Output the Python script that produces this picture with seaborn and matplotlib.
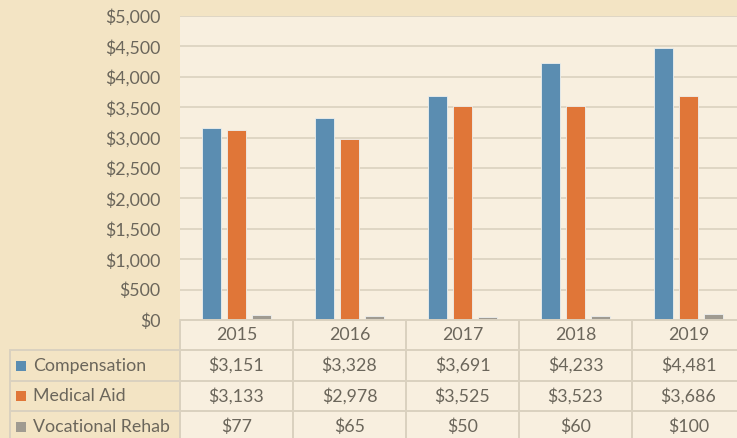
import matplotlib
matplotlib.use('Agg')
import matplotlib.pyplot as plt
import matplotlib.transforms as mtransforms
from matplotlib.patches import Rectangle
from matplotlib.lines import Line2D
import pandas as pd
import seaborn as sns

# Data
years = ['2015', '2016', '2017', '2018', '2019']
compensation = [3151, 3328, 3691, 4233, 4481]
medical_aid = [3133, 2978, 3525, 3523, 3686]
vocational_rehab = [77, 65, 50, 60, 100]
series_names = ['Compensation', 'Medical Aid', 'Vocational Rehab']
colors = ['#5B8DB1', '#E07638', '#A09B91']

fig_bg = '#F3E4C4'
plot_bg = '#F8EFDF'
grid_col = '#DAD1BF'
text_col = '#6B665B'

df = pd.DataFrame({
    'year': years * 3,
    'series': [s for s in series_names for _ in years],
    'value': compensation + medical_aid + vocational_rehab,
})

sns.set_style('white')
plt.rcParams['font.family'] = ['Lato', 'DejaVu Sans']

W, H = 737, 438
fig = plt.figure(figsize=(W / 100, H / 100), dpi=100, facecolor=fig_bg)


def fx(px):
    return px / W


def fy(py):
    return 1 - py / H


# axes spans 5 columns of ~113 px starting at x=180 (runs past the right edge)
ax = fig.add_axes([fx(180), fy(320), fx(565), (320 - 16) / H])
ax.set_facecolor(plot_bg)

# cream background for the table cells under the plot
fig.add_artist(Rectangle((fx(180), 0), 1, fy(320), transform=fig.transFigure,
                         facecolor=plot_bg, edgecolor='none', zorder=0))

sns.barplot(data=df, x='year', y='value', hue='series', palette=colors,
            saturation=1, width=0.66, gap=0.22, ax=ax, legend=False,
            edgecolor='#EEF0EE', linewidth=0.6, zorder=3)

ax.set_ylim(0, 5000)
ax.set_yticks(range(0, 5001, 500))
ax.set_yticklabels([f'${v:,}' for v in range(0, 5001, 500)])
ax.set_xlim(-0.5, 4.5)
ax.set_xticks([])
ax.set_xlabel('')
ax.set_ylabel('')
ax.yaxis.grid(True, color=grid_col, linewidth=1.2, zorder=0)
ax.set_axisbelow(True)
for s in ax.spines.values():
    s.set_visible(False)
ax.tick_params(axis='y', length=0, pad=14, labelsize=12.8, labelcolor=text_col)

# data table under the chart
trans = mtransforms.blended_transform_factory(ax.transData, fig.transFigure)
line_kw = dict(color=grid_col, linewidth=1.4)

row_tops = [320, 350, 381, 411]
row_bottom = 442
fig.add_artist(Line2D([fx(180), 1], [fy(320), fy(320)], transform=fig.transFigure, **line_kw))
for py in row_tops[1:]:
    fig.add_artist(Line2D([fx(10), 1], [fy(py), fy(py)], transform=fig.transFigure, **line_kw))
# vertical lines
fig.add_artist(Line2D([fx(10), fx(10)], [fy(350), 0], transform=fig.transFigure, **line_kw))
for i in range(len(years)):
    fig.add_artist(Line2D([i - 0.5, i - 0.5], [fy(320), 0], transform=trans, **line_kw))

txt_kw = dict(fontsize=12.8, color=text_col, ha='center', va='center')
for i, yr in enumerate(years):
    fig.text(i, fy(335), yr, transform=trans, **txt_kw)

all_values = [compensation, medical_aid, vocational_rehab]
for r, (name, vals, col) in enumerate(zip(series_names, all_values, colors)):
    yc = fy((row_tops[r + 1] + (row_tops[r + 2] if r + 2 < len(row_tops) else row_bottom)) / 2)
    fig.add_artist(Rectangle((fx(16), yc - 5 / H), fx(10), 10 / H, transform=fig.transFigure,
                             facecolor=col, edgecolor='none'))
    fig.text(fx(33), yc, name, fontsize=12.8, color=text_col, ha='left', va='center')
    for i, v in enumerate(vals):
        fig.text(i, yc, f'${v:,}', transform=trans, **txt_kw)

plt.savefig('out.png', dpi=100, facecolor=fig_bg)
